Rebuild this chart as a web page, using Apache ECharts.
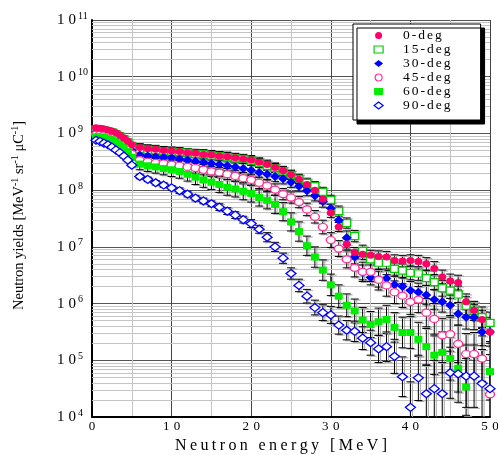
<!DOCTYPE html>
<html>
<head>
<meta charset="utf-8">
<script src="https://cdn.jsdelivr.net/npm/echarts@6/dist/echarts.min.js"></script>
<style>
  html, body { margin: 0; padding: 0; background: #fff; }
  #chart { width: 498px; height: 455px; }
</style>
</head>
<body>
<div id="chart"></div>
<script>
// neutron energy [MeV]
var energies = [0.5, 1, 1.5, 2, 2.5, 3, 3.5, 4, 4.5, 5,
  6, 7, 8, 9, 10, 11, 12, 13, 14, 15, 16, 17, 18, 19, 20,
  21, 22, 23, 24, 25, 26, 27, 28, 29, 30, 31, 32, 33, 34, 35,
  36, 37, 38, 39, 40, 41, 42, 43, 44, 45, 46, 47, 48, 49, 50];

// yields, stored as log10
var deg0 = [9.10, 9.09, 9.08, 9.06, 9.04, 9.01, 8.97, 8.92, 8.86, 8.80,
  8.75, 8.73, 8.72, 8.70, 8.69, 8.68, 8.66, 8.65, 8.63, 8.62, 8.60, 8.59, 8.57, 8.55, 8.53,
  8.49, 8.45, 8.40, 8.34, 8.27, 8.19, 8.10, 8.00, 7.84, 7.60, 7.35, 7.05, 6.90, 6.87, 6.85,
  6.83, 6.82, 6.76, 6.75, 6.76, 6.74, 6.70, 6.62, 6.47, 6.40, 6.37, 6.03, 5.88, 5.72, 5.50];
var deg15 = [9.07, 9.07, 9.06, 9.04, 9.02, 8.99, 8.95, 8.90, 8.84, 8.78,
  8.73, 8.71, 8.70, 8.69, 8.68, 8.67, 8.66, 8.64, 8.63, 8.61, 8.60, 8.58, 8.56, 8.55, 8.52,
  8.48, 8.43, 8.39, 8.33, 8.27, 8.20, 8.13, 8.07, 7.97, 7.83, 7.63, 7.42, 7.19, 6.93, 6.78,
  6.72, 6.72, 6.61, 6.58, 6.54, 6.53, 6.45, 6.38, 6.27, 6.23, 6.16, 5.96, 5.87, 5.76, 5.66];
var deg30 = [9.02, 9.02, 9.01, 8.99, 8.97, 8.94, 8.90, 8.85, 8.78, 8.70,
  8.62, 8.60, 8.59, 8.58, 8.57, 8.55, 8.53, 8.51, 8.49, 8.47, 8.45, 8.43, 8.41, 8.38, 8.35,
  8.31, 8.28, 8.24, 8.20, 8.14, 8.07, 7.99, 7.90, 7.80, 7.68, 7.47, 7.16, 6.82, 6.55, 6.46,
  6.43, 6.44, 6.33, 6.30, 6.23, 6.20, 6.15, 6.07, 6.03, 5.97, 5.82, 5.76, 5.76, 5.50, 5.50];
var deg45 = [8.98, 8.98, 8.97, 8.95, 8.93, 8.90, 8.86, 8.80, 8.73, 8.64,
  8.53, 8.50, 8.48, 8.47, 8.45, 8.43, 8.41, 8.39, 8.36, 8.33, 8.31, 8.28, 8.25, 8.21, 8.18,
  8.13, 8.08, 8.01, 7.93, 7.87, 7.79, 7.66, 7.53, 7.35, 7.12, 6.97, 6.78, 6.63, 6.56, 6.56,
  6.42, 6.32, 6.20, 6.14, 6.03, 6.07, 5.84, 5.73, 5.44, 5.46, 5.29, 5.11, 5.11, 5.03, 4.40];
var deg60 = [8.94, 8.94, 8.93, 8.91, 8.89, 8.86, 8.82, 8.76, 8.68, 8.58,
  8.46, 8.43, 8.41, 8.38, 8.36, 8.33, 8.28, 8.23, 8.18, 8.14, 8.10, 8.05, 8.02, 7.98, 7.94,
  7.87, 7.82, 7.75, 7.62, 7.44, 7.27, 7.02, 6.82, 6.59, 6.33, 6.13, 5.97, 5.87, 5.71, 5.63,
  5.68, 5.72, 5.58, 5.49, 5.49, 5.37, 5.24, 5.09, 5.14, 5.03, 4.86, 4.53, null, null, 4.80];
var deg90 = [8.88, 8.86, 8.83, 8.80, 8.76, 8.71, 8.66, 8.60, 8.53, 8.44,
  8.24, 8.19, 8.13, 8.09, 8.04, 7.99, 7.93, 7.86, 7.81, 7.76, 7.70, 7.63, 7.56, 7.48, 7.41,
  7.31, 7.17, 7.00, 6.80, 6.53, 6.32, 6.13, 5.93, 5.84, 5.80, 5.62, 5.53, 5.51, 5.39, 5.31,
  5.20, 5.24, 5.07, 4.71, 4.17, 4.69, 4.41, 4.50, 4.41, 4.78, 4.76, 4.72, 4.72, 4.59, 4.50];

// error bar half widths, in decades
var err0 = [0.04, 0.04, 0.04, 0.04, 0.04, 0.04, 0.04, 0.04, 0.04, 0.04,
  0.07, 0.07, 0.07, 0.07, 0.07, 0.07, 0.07, 0.07, 0.08, 0.08, 0.08, 0.08, 0.08, 0.08, 0.08,
  0.08, 0.08, 0.08, 0.08, 0.08, 0.08, 0.08, 0.08, 0.08, 0.08, 0.08, 0.09, 0.09, 0.09, 0.09,
  0.10, 0.10, 0.10, 0.10, 0.10, 0.11, 0.11, 0.12, 0.12, 0.12, 0.13, 0.14, 0.15, 0.16, 0.17];
var err15 = [0.04, 0.04, 0.04, 0.04, 0.04, 0.04, 0.04, 0.04, 0.04, 0.04,
  0.07, 0.07, 0.07, 0.07, 0.07, 0.07, 0.07, 0.07, 0.08, 0.08, 0.08, 0.08, 0.08, 0.08, 0.08,
  0.08, 0.08, 0.08, 0.08, 0.08, 0.08, 0.08, 0.08, 0.08, 0.08, 0.09, 0.09, 0.10, 0.10, 0.10,
  0.11, 0.11, 0.11, 0.12, 0.12, 0.12, 0.13, 0.13, 0.14, 0.14, 0.15, 0.16, 0.17, 0.18, 0.19];
var err30 = [0.04, 0.04, 0.04, 0.04, 0.04, 0.04, 0.04, 0.04, 0.04, 0.04,
  0.07, 0.07, 0.07, 0.08, 0.08, 0.08, 0.08, 0.08, 0.08, 0.08, 0.08, 0.09, 0.09, 0.09, 0.09,
  0.09, 0.09, 0.09, 0.09, 0.09, 0.09, 0.09, 0.09, 0.10, 0.10, 0.11, 0.12, 0.12, 0.13, 0.13,
  0.14, 0.14, 0.15, 0.15, 0.16, 0.16, 0.17, 0.17, 0.18, 0.18, 0.20, 0.21, 0.22, 0.24, 0.25];
var err45 = [0.04, 0.04, 0.04, 0.04, 0.04, 0.04, 0.04, 0.04, 0.04, 0.04,
  0.08, 0.08, 0.08, 0.08, 0.08, 0.09, 0.09, 0.09, 0.09, 0.09, 0.09, 0.10, 0.10, 0.10, 0.10,
  0.10, 0.10, 0.10, 0.10, 0.10, 0.10, 0.11, 0.11, 0.12, 0.13, 0.14, 0.15, 0.16, 0.17, 0.17,
  0.18, 0.19, 0.20, 0.21, 0.22, 0.23, 0.25, 0.27, 0.30, 0.30, 0.33, 0.36, 0.38, 0.40, 0.45];
var err60 = [0.04, 0.04, 0.04, 0.04, 0.04, 0.04, 0.04, 0.04, 0.04, 0.04,
  0.10, 0.10, 0.11, 0.11, 0.12, 0.12, 0.12, 0.13, 0.13, 0.13, 0.14, 0.14, 0.14, 0.15, 0.15,
  0.15, 0.15, 0.16, 0.16, 0.16, 0.17, 0.17, 0.18, 0.18, 0.19, 0.20, 0.20, 0.21, 0.22, 0.23,
  0.24, 0.25, 0.26, 0.27, 0.28, 0.30, 0.32, 0.34, 0.36, 0.38, 0.42, 0.50, null, null, 0.50];
var err90 = [0.03, 0.03, 0.03, 0.03, 0.03, 0.03, 0.03, 0.03, 0.03, 0.03,
  0.04, 0.04, 0.04, 0.04, 0.04, 0.05, 0.05, 0.05, 0.05, 0.05, 0.06, 0.06, 0.06, 0.06, 0.07,
  0.07, 0.08, 0.08, 0.09, 0.10, 0.11, 0.12, 0.13, 0.14, 0.15, 0.16, 0.17, 0.18, 0.20, 0.22,
  0.24, 0.26, 0.30, 0.35, 0.45, 0.40, 0.50, 0.50, 0.55, 0.45, 0.50, 0.55, 0.55, 0.60, 0.60];

var names = ['0-deg', '15-deg', '30-deg', '45-deg', '60-deg', '90-deg'];
var yields = [deg0, deg15, deg30, deg45, deg60, deg90];
var errors = [err0, err15, err30, err45, err60, err90];

var ellipse = 'path://M0,5A5,5,0,1,1,10,5A5,5,0,1,1,0,5Z';
var marks = [
  { symbol: ellipse,   size: [8, 7],  fill: '#ff0066', line: '#ff0066', open: false, z: 4 },
  { symbol: 'rect',    size: [8, 7],  fill: '#ffffff', line: '#00cc00', open: true,  z: 3 },
  { symbol: 'diamond', size: [10, 9], fill: '#0000ff', line: '#0000ff', open: false, z: 3 },
  { symbol: ellipse,   size: [9, 7],  fill: '#ffffff', line: '#ff3399', open: true,  z: 3 },
  { symbol: 'rect',    size: [8, 7],  fill: '#00ee00', line: '#00ee00', open: false, z: 3 },
  { symbol: 'diamond', size: [10, 8], fill: '#ffffff', line: '#0000ff', open: true,  z: 3 }
];

// spread letters a little, the original figure is stretched sideways
function spaced(str, key) {
  return str.split('').map(function (c) { return '{' + key + '|' + c + '}'; }).join('');
}

var myChart = echarts.init(document.getElementById('chart'));

var minorLines = [];
for (var k = 4; k < 11; k++) {
  for (var m = 2; m <= 9; m++) minorLines.push({ yAxis: m * Math.pow(10, k) });
}

var barData = [];
var series = [];
yields.forEach(function (ys, s) {
  var pts = [];
  ys.forEach(function (v, i) {
    if (v == null) return;
    pts.push([energies[i], Math.pow(10, v)]);
    var e = errors[s][i];
    barData.push([energies[i], Math.pow(10, v - e), Math.pow(10, v + e)]);
  });
  var mk = marks[s];
  series.push({
    name: names[s],
    type: 'scatter',
    z: mk.z,
    symbol: mk.symbol,
    symbolSize: mk.size,
    itemStyle: {
      color: mk.fill,
      borderColor: mk.line,
      borderWidth: mk.open ? 1.3 : 0,
      opacity: 1
    },
    emphasis: { disabled: true },
    data: pts
  });
});

var barStyle = {
  stroke: '#000',
  lineWidth: 1,
  shadowColor: '#a8a8a8',
  shadowBlur: 0,
  shadowOffsetX: 2,
  shadowOffsetY: 1
};

series.unshift({
  type: 'custom',
  z: 2,
  clip: true,
  silent: true,
  renderItem: function (params, api) {
    var x = api.value(0);
    var lo = api.coord([x, api.value(1)]);
    var hi = api.coord([x, api.value(2)]);
    var w = 4;
    return {
      type: 'group',
      children: [
        { type: 'line', shape: { x1: lo[0], y1: lo[1], x2: hi[0], y2: hi[1] }, style: barStyle },
        { type: 'line', shape: { x1: lo[0] - w, y1: lo[1], x2: lo[0] + w, y2: lo[1] }, style: barStyle },
        { type: 'line', shape: { x1: hi[0] - w, y1: hi[1], x2: hi[0] + w, y2: hi[1] }, style: barStyle }
      ]
    };
  },
  data: barData,
  markLine: {
    z: 1,
    silent: true,
    symbol: 'none',
    label: { show: false },
    lineStyle: { color: '#c4c4c4', type: 'solid', width: 1 },
    animation: false,
    data: minorLines
  }
});

var serif = 'Liberation Serif';

option = {
  backgroundColor: '#ffffff',
  animation: false,
  grid: { left: 92, right: 8, top: 20, bottom: 38, containLabel: false, outerBoundsMode: 'none' },
  legend: {
    orient: 'vertical',
    left: 353,
    top: 24,
    itemWidth: 9,
    itemHeight: 7,
    itemGap: 0,
    padding: [4.5, 29, 7.5, 20.5],
    selectedMode: false,
    backgroundColor: '#ffffff',
    borderColor: '#000000',
    borderWidth: 1,
    borderRadius: 0,
    shadowColor: '#000000',
    shadowBlur: 0,
    shadowOffsetX: 4,
    shadowOffsetY: 4,
    data: names.map(function (n, s) {
      return {
        name: n,
        icon: marks[s].symbol,
        itemStyle: { color: marks[s].fill, borderColor: marks[s].line, borderWidth: marks[s].open ? 1.2 : 0 }
      };
    }),
    formatter: function (name) { return spaced(name, 'l'); },
    textStyle: {
      padding: [0, 0, 0, 14],
      rich: { l: { fontFamily: serif, fontSize: 13.5, color: '#000', padding: [0, 1], lineHeight: 11.5 } }
    }
  },
  xAxis: {
    type: 'value',
    min: 0,
    max: 50,
    interval: 10,
    name: spaced('Neutron energy [MeV]', 'n'),
    nameLocation: 'middle',
    nameGap: 14,
    nameTextStyle: {
      padding: [0, 20, 0, 0],
      rich: { n: { fontFamily: serif, fontSize: 16, color: '#000', padding: [0, 1.7], lineHeight: 16 } }
    },
    axisLine: { show: true, lineStyle: { color: '#000', width: 2 } },
    axisTick: { show: false },
    axisLabel: {
      margin: 3,
      formatter: function (v) { return spaced(String(v), 'd'); },
      rich: { d: { fontFamily: serif, fontSize: 13, color: '#000', padding: [0, 2.2] } }
    },
    splitLine: { show: true, lineStyle: { color: '#444', width: 1 } },
    minorTick: { show: false, splitNumber: 2 },
    minorSplitLine: { show: true, lineStyle: { color: '#c4c4c4', width: 1 } }
  },
  yAxis: {
    type: 'log',
    logBase: 10,
    min: 1e4,
    max: 1e11,
    name: '{t|Neutron yields [MeV}{s|-1}{t| sr}{s|-1}{t| μC}{s|-1}{t|]}',
    nameLocation: 'middle',
    nameRotate: 90,
    nameGap: 64,
    nameTextStyle: {
      padding: [0, 0, 0, 6],
      rich: {
        t: { fontFamily: serif, fontSize: 14.5, color: '#000', lineHeight: 18 },
        s: { fontFamily: serif, fontSize: 10, color: '#000', lineHeight: 10, verticalAlign: 'top' }
      }
    },
    axisLine: { show: true, lineStyle: { color: '#000', width: 2 } },
    axisTick: { show: false },
    axisLabel: {
      align: 'left',
      margin: 37,
      formatter: function (v) {
        return spaced('10', 'b') + '{e|' + Math.round(Math.log10(v)) + '}';
      },
      rich: {
        b: { fontFamily: serif, fontSize: 15, color: '#000', padding: [0, 2], lineHeight: 18 },
        e: { fontFamily: serif, fontSize: 10, color: '#000', lineHeight: 10, verticalAlign: 'top' }
      }
    },
    splitLine: { show: true, lineStyle: { color: '#555', width: 1 } }
  },
  series: series
};

myChart.setOption(option);
</script>
</body>
</html>
